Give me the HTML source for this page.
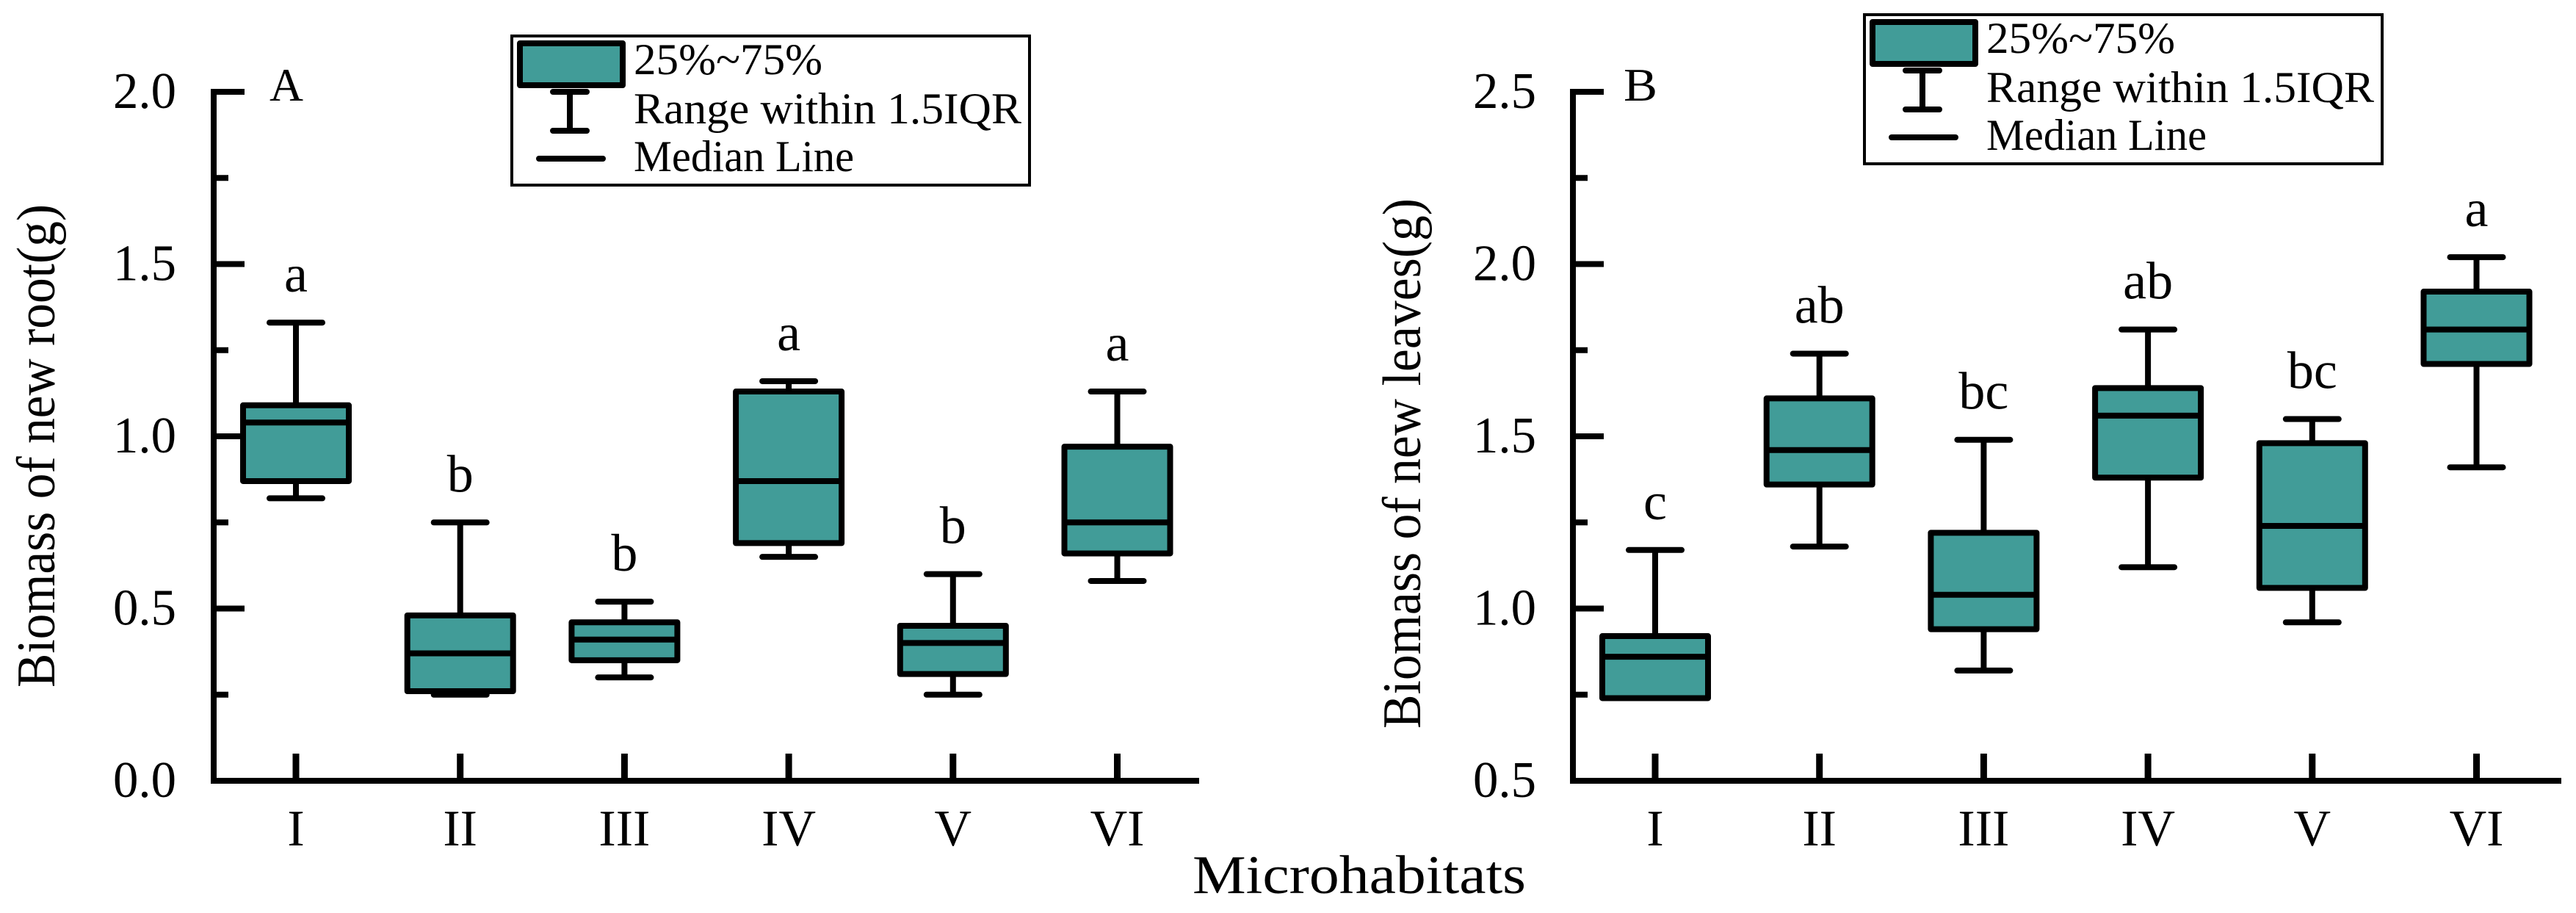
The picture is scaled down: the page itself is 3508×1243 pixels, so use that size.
<!DOCTYPE html>
<html><head><meta charset="utf-8"><style>
html,body{margin:0;padding:0;background:#fff;}
svg, svg text{font-family:"Liberation Serif","Times New Roman",serif;}
svg{display:block;}
</style></head><body>
<svg id="chart" xmlns="http://www.w3.org/2000/svg" width="3508" height="1243" viewBox="0 0 3508 1243" font-family="Liberation Serif, serif">
<rect width="3508" height="1243" fill="#fff"/>
<text x="1624" y="1216" font-family="Liberation Serif, serif" font-size="74" textLength="454" lengthAdjust="spacingAndGlyphs">Microhabitats</text>
</svg>
<script>
const categories = ["I","II","III","IV","V","VI"];
// [low whisker, Q1, median, Q3, high whisker]
const rootStats = [[0.82,0.87,1.04,1.09,1.33],[0.25,0.26,0.37,0.48,0.75],[0.30,0.35,0.41,0.46,0.52],[0.65,0.69,0.87,1.13,1.16],[0.25,0.31,0.40,0.45,0.60],[0.58,0.66,0.75,0.97,1.13]];
const rootLetters = ["a","b","b","a","b","a"];
const leafStats = [[0.74,0.74,0.86,0.92,1.17],[1.18,1.36,1.46,1.61,1.74],[0.82,0.94,1.04,1.22,1.49],[1.12,1.38,1.56,1.64,1.81],[0.96,1.06,1.24,1.48,1.55],[1.41,1.71,1.81,1.92,2.02]];
const leafLetters = ["c","ab","bc","ab","bc","a"];
const rootTicks = [0.0,0.5,1.0,1.5,2.0];
const leafTicks = [0.5,1.0,1.5,2.0,2.5];

const NS="http://www.w3.org/2000/svg";
const svg=document.getElementById('chart');
const FF="Liberation Serif, serif";
function mk(tag,attrs,parent){const e=document.createElementNS(NS,tag);if(tag==='text')e.setAttribute('font-family',FF);for(const k in attrs)e.setAttribute(k,attrs[k]);(parent||svg).appendChild(e);return e;}
const FILL="#419C98";

function panel(cfg){
  const g=mk('g',{});
  
  
  const x0=cfg.axisX, yTop=125, yBot=1063, ymin=cfg.ticks[0], ymax=cfg.ticks[cfg.ticks.length-1];
  const sy=v=>yBot-(v-ymin)/(ymax-ymin)*(yBot-yTop);
  const sx=i=>cfg.firstX+i*223.7;
  const ya=mk('line',{x1:x0,y1:yTop-4,x2:x0,y2:yBot+4,stroke:'#000','stroke-width':8},g);
  
  
  const xa=mk('line',{x1:x0-4,y1:yBot,x2:cfg.axisEnd,y2:yBot,stroke:'#000','stroke-width':8},g);
  
  
  for(let v=ymin+0.25;v<=ymax+1e-9;v+=0.25){
    const major=Math.abs((v-ymin)/0.5-Math.round((v-ymin)/0.5))<1e-6;
    const t=mk('line',{x1:x0,y1:sy(v),x2:x0+(major?42:20),y2:sy(v),stroke:'#000','stroke-width':8},g);
    
    
  }
  cfg.ticks.forEach(v=>{
    const t=mk('text',{x:cfg.labelRight-86,y:sy(v)+22,'font-size':70,textLength:86,lengthAdjust:'spacingAndGlyphs'},g);
    t.textContent=v.toFixed(1);
    
    
  });
  const tt=mk('text',{transform:`translate(${cfg.titleX},${cfg.titleY0}) rotate(-90)`,'font-size':74,textLength:cfg.titleLen,lengthAdjust:'spacingAndGlyphs'},g);
  tt.textContent=cfg.title;
  
  
  const pl=mk('text',{x:cfg.letterX,y:137,'font-size':64,textLength:46,lengthAdjust:'spacingAndGlyphs'},g);
  pl.textContent=cfg.letter;
  
  
  categories.forEach((c,i)=>{
    const t=mk('line',{x1:sx(i),y1:yBot,x2:sx(i),y2:yBot-37,stroke:'#000','stroke-width':9},g);
    
    
    const l=mk('text',{x:sx(i),y:1151,'font-size':70,'text-anchor':'middle'},g);
    l.textContent=c;
    
    
  });
  cfg.stats.forEach((s,i)=>{
    const bg=mk('g',{},g);
    
    
    const cx=sx(i),hw=72,cw=36;
    mk('line',{x1:cx,y1:sy(s[4]),x2:cx,y2:sy(s[3]),stroke:'#000','stroke-width':8},bg);
    mk('line',{x1:cx,y1:sy(s[0]),x2:cx,y2:sy(s[1]),stroke:'#000','stroke-width':8},bg);
    mk('line',{x1:cx-cw,y1:sy(s[4]),x2:cx+cw,y2:sy(s[4]),stroke:'#000','stroke-width':8,'stroke-linecap':'round'},bg);
    mk('line',{x1:cx-cw,y1:sy(s[0]),x2:cx+cw,y2:sy(s[0]),stroke:'#000','stroke-width':8,'stroke-linecap':'round'},bg);
    mk('rect',{x:cx-hw,y:sy(s[3]),width:2*hw,height:sy(s[1])-sy(s[3]),fill:FILL,stroke:'#000','stroke-width':8,'stroke-linejoin':'round'},bg);
    mk('line',{x1:cx-hw,y1:sy(s[2]),x2:cx+hw,y2:sy(s[2]),stroke:'#000','stroke-width':8},bg);
    const lt=mk('text',{x:cx,y:sy(s[4])-42,'font-size':72,'text-anchor':'middle'},g);
    lt.textContent=cfg.letters[i];
    
    
  });
  const L=cfg.legend;
  const lg=mk('g',{},g);
  
  
  mk('rect',{x:L.x,y:L.y,width:705,height:203,fill:'#fff',stroke:'#000','stroke-width':4},lg);
  mk('rect',{x:L.x+11,y:L.y+10,width:140,height:57,fill:FILL,stroke:'#000','stroke-width':8,'stroke-linejoin':'round'},lg);
  const wx=L.x+79;
  mk('line',{x1:wx,y1:L.y+76,x2:wx,y2:L.y+129,stroke:'#000','stroke-width':8},lg);
  mk('line',{x1:wx-23,y1:L.y+76,x2:wx+23,y2:L.y+76,stroke:'#000','stroke-width':8,'stroke-linecap':'round'},lg);
  mk('line',{x1:wx-23,y1:L.y+129,x2:wx+23,y2:L.y+129,stroke:'#000','stroke-width':8,'stroke-linecap':'round'},lg);
  mk('line',{x1:L.x+37,y1:L.y+167,x2:L.x+124,y2:L.y+167,stroke:'#000','stroke-width':8,'stroke-linecap':'round'},lg);
  [["25%~75%",L.y+52,257,'legend-entry-box'],["Range within 1.5IQR",L.y+119,528,'legend-entry-whisker'],["Median Line",L.y+184,300,'legend-entry-median']].forEach(a=>{
    const t=mk('text',{x:L.x+166,y:a[1],'font-size':60,textLength:a[2],lengthAdjust:'spacingAndGlyphs'},lg);
    t.textContent=a[0];
    
    
  });
}
panel({name:'panel-a-root',axisX:291,axisEnd:1633,firstX:403,labelRight:240,ticks:rootTicks,stats:rootStats,letters:rootLetters,
  title:'Biomass of new root(g)',titleX:74,titleY0:936,titleLen:658,letter:'A',letterX:367,legend:{x:697,y:49}});
panel({name:'panel-b-leaves',axisX:2142,axisEnd:3488,firstX:2254,labelRight:2092,ticks:leafTicks,stats:leafStats,letters:leafLetters,
  title:'Biomass of new leaves(g)',titleX:1934,titleY0:992,titleLen:722,letter:'B',letterX:2211,legend:{x:2539,y:20}});
</script>
</body></html>
